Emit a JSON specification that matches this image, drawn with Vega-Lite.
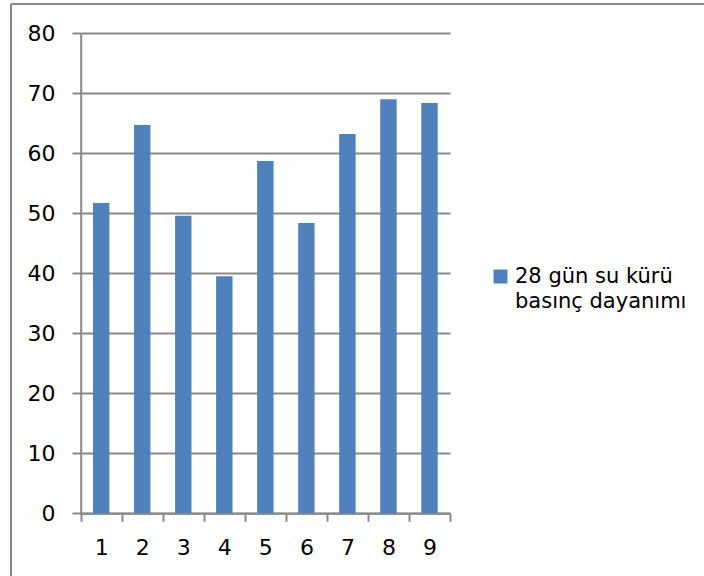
{
  "$schema": "https://vega.github.io/schema/vega-lite/v6.json",
  "width": 693,
  "height": 572,
  "autosize": "none",
  "padding": {"left": 11, "top": 4, "right": 0, "bottom": 0},
  "background": "white",
  "data": {
    "values": [
      {"sample": "1", "strength": 51.7, "series": "28 gün su kürü basınç dayanımı"},
      {"sample": "2", "strength": 64.7, "series": "28 gün su kürü basınç dayanımı"},
      {"sample": "3", "strength": 49.6, "series": "28 gün su kürü basınç dayanımı"},
      {"sample": "4", "strength": 39.5, "series": "28 gün su kürü basınç dayanımı"},
      {"sample": "5", "strength": 58.7, "series": "28 gün su kürü basınç dayanımı"},
      {"sample": "6", "strength": 48.4, "series": "28 gün su kürü basınç dayanımı"},
      {"sample": "7", "strength": 63.2, "series": "28 gün su kürü basınç dayanımı"},
      {"sample": "8", "strength": 69.0, "series": "28 gün su kürü basınç dayanımı"},
      {"sample": "9", "strength": 68.4, "series": "28 gün su kürü basınç dayanımı"}
    ]
  },
  "mark": {"type": "bar", "width": {"band": 0.4}},
  "encoding": {
    "x": {
      "field": "sample",
      "type": "ordinal",
      "scale": {"type": "band", "range": [69.7, 439], "paddingInner": 0, "paddingOuter": 0},
      "axis": {
        "title": null,
        "labelAngle": 0,
        "offset": -62.7,
        "tickBand": "extent",
        "tickSize": 8,
        "labelPadding": 16,
        "grid": false
      }
    },
    "y": {
      "field": "strength",
      "type": "quantitative",
      "scale": {"domain": [0, 80], "range": [509.3, 29.3], "nice": false},
      "axis": {
        "title": null,
        "values": [0, 10, 20, 30, 40, 50, 60, 70, 80],
        "offset": -69.7,
        "tickSize": 8.7,
        "labelPadding": 17,
        "grid": true
      }
    },
    "color": {
      "field": "series",
      "type": "nominal",
      "scale": {"range": ["#4F81BD"]},
      "legend": {
        "title": null,
        "orient": "none",
        "legendX": 479,
        "legendY": 262,
        "padding": 0,
        "symbolType": "square",
        "symbolSize": 196,
        "symbolStrokeWidth": 0,
        "labelOffset": 4,
        "labelLimit": 400,
        "labelExpr": "['28 gün su kürü', 'basınç dayanımı']"
      }
    }
  },
  "config": {
    "font": "DejaVu Sans",
    "axis": {
      "labelFont": "DejaVu Sans",
      "labelFontSize": 22,
      "labelColor": "#000000",
      "domainColor": "#898989",
      "tickColor": "#898989",
      "gridColor": "#898989",
      "domainWidth": 2,
      "tickWidth": 2,
      "gridWidth": 2,
      "gridOpacity": 1
    },
    "legend": {
      "labelFont": "DejaVu Sans",
      "labelFontSize": 21,
      "labelColor": "#000000"
    },
    "style": {"guide-label": {"lineHeight": 25}},
    "view": {
      "stroke": "#898989",
      "strokeWidth": 2,
      "strokeDash": [693, 1265, 572, 0]
    }
  }
}
